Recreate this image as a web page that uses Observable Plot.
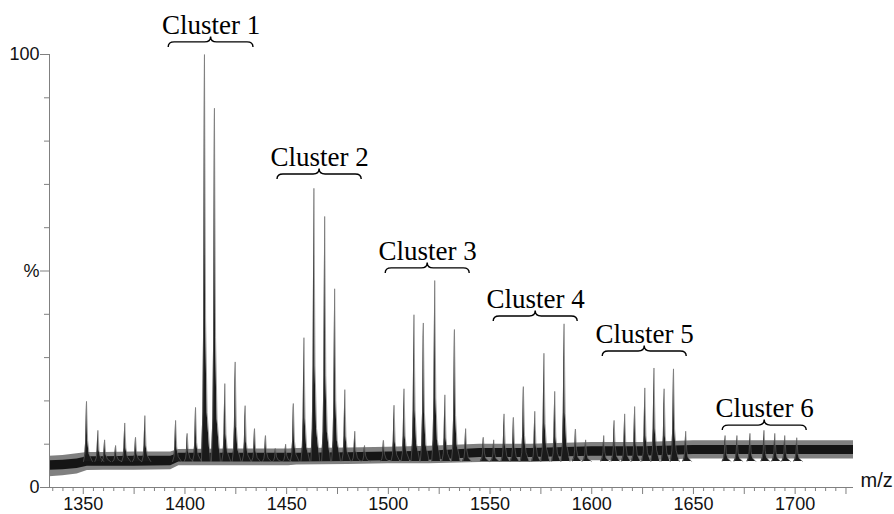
<!DOCTYPE html>
<html><head><meta charset="utf-8">
<script src="https://cdn.jsdelivr.net/npm/d3@7"></script>
<script src="https://cdn.jsdelivr.net/npm/@observablehq/plot@0.6"></script>
<style>html,body{margin:0;padding:0;background:#fff;} #chart svg{display:block;}</style>
</head><body><div id="chart"></div>
<script>
// ---- data ----
const xDomain = [1333.4, 1728.7];
const xLabelTicks = [1350, 1400, 1450, 1500, 1550, 1600, 1650, 1700];
const xMidTicks = [1375, 1425, 1475, 1525, 1575, 1625, 1675, 1725];
const yLabelTicks = [0, 50, 100];
const yLabelText = ["0", "%", "100"];
const yMinorTicks = [10, 20, 30, 40, 60, 70, 80, 90];

const peakMz = [1351.6, 1357.2, 1360.5, 1365.9, 1370.4, 1375.7, 1380.3,
  1395.4, 1401.1, 1405.2, 1409.6, 1414.5, 1419.6, 1424.7, 1429.6, 1434.2, 1439.6, 1444.5, 1449.5,
  1453.3, 1458.5, 1463.4, 1468.7, 1473.6, 1478.6, 1483.5, 1488.3,
  1497.6, 1502.8, 1507.7, 1512.6, 1517.2, 1522.8, 1527.8, 1532.5, 1538.0,
  1546.7, 1551.8, 1556.9, 1561.5, 1566.4, 1572.0, 1576.5, 1581.8, 1586.4, 1592.0, 1597.0,
  1605.9, 1611.0, 1616.2, 1621.1, 1626.1, 1630.6, 1635.6, 1640.2, 1646.2,
  1665.6, 1671.4, 1677.8, 1684.7, 1690.0, 1694.9, 1700.8];
const peakHeight = [19.9, 13.2, 11.0, 9.7, 14.9, 11.6, 16.6,
  15.5, 12.5, 18.5, 100, 87.6, 24, 29, 18.9, 13.6, 12, 9, 10,
  19.4, 34.6, 69.1, 62.6, 45.9, 22.6, 13, 9.7,
  10.9, 19, 22.8, 39.9, 38, 47.8, 21.4, 36.5, 13.6,
  11.6, 11, 17, 16.2, 23.3, 17.6, 31, 22.2, 37.8, 13.5, 11,
  12, 15.5, 17, 18.7, 23, 27.6, 22.8, 27.4, 13,
  12, 12, 12.5, 13.2, 12.5, 12, 11.5];
const peakFoot = 6;

const bandMz        = [1333.4, 1340, 1347, 1352, 1360, 1375, 1393, 1397, 1420, 1451, 1455, 1480, 1500, 1520, 1545, 1570, 1600, 1625, 1650, 1670, 1700, 1728.7];
const bandOuterLow  = [2.5, 2.7, 3.1, 3.9, 4.0, 4.0, 4.1, 5.0, 5.0, 5.0, 5.2, 5.3, 5.5, 5.5, 5.8, 5.8, 6.2, 6.2, 6.6, 6.6, 6.6, 6.6];
const bandOuterHigh = [7.2, 7.4, 7.8, 8.1, 8.1, 8.2, 8.2, 8.8, 8.9, 8.9, 9.0, 9.1, 9.3, 9.5, 10.0, 10.0, 10.4, 10.4, 10.8, 10.8, 10.8, 10.8];
const bandCoreLow   = [4.0, 4.1, 4.4, 4.9, 4.9, 4.9, 5.0, 5.9, 5.9, 5.9, 5.9, 6.0, 6.2, 6.3, 6.9, 6.9, 7.2, 7.2, 7.6, 7.6, 7.6, 7.6];
const bandCoreHigh  = [6.2, 6.3, 6.6, 7.1, 7.1, 7.2, 7.2, 7.9, 7.9, 7.9, 7.9, 8.0, 8.2, 8.4, 9.0, 9.0, 9.4, 9.4, 9.7, 9.7, 9.7, 9.7];

const clusterNames = ["Cluster 1", "Cluster 2", "Cluster 3", "Cluster 4", "Cluster 5", "Cluster 6"];
const clusterStart = [1392.0, 1445.5, 1498.7, 1551.8, 1605.4, 1664.4];
const clusterEnd   = [1433.7, 1486.9, 1540.0, 1593.1, 1646.7, 1705.7];
const clusterLevel = [102.8, 72.3, 50.6, 39.5, 31.4, 14.3];

// ---- tables built from the arrays ----
const bandRows = bandMz.map((x, i) => ({x, lo: bandOuterLow[i], hi: bandOuterHigh[i], clo: bandCoreLow[i], chi: bandCoreHigh[i]}));
const peakRows = [];
peakMz.forEach((m, i) => {
  const h = peakHeight[i];
  const low = peakFoot + 0.12 * (h - peakFoot);
  const mid = peakFoot + 0.35 * (h - peakFoot);
  peakRows.push({id: i, x: m - 1.5, y: peakFoot});
  peakRows.push({id: i, x: m - 0.8, y: low});
  peakRows.push({id: i, x: m - 0.4, y: mid});
  peakRows.push({id: i, x: m, y: h});
  peakRows.push({id: i, x: m + 0.55, y: mid});
  peakRows.push({id: i, x: m + 1.3, y: low});
  peakRows.push({id: i, x: m + 2.9, y: peakFoot});
});
const clusters = clusterNames.map((name, i) => ({name, start: clusterStart[i], end: clusterEnd[i], level: clusterLevel[i]}));
const xMinorTicks = d3.range(1335, 1730, 5).filter(v => v % 25 !== 0);

const axisGray = "#808080";
const textColor = "#111";
const sans = "Liberation Sans, Arial, sans-serif";

function braces(index, scales) {
  const g = d3.create("svg:g").attr("fill", "none").attr("stroke", "#000").attr("stroke-width", 1.4);
  clusters.forEach(c => {
    const x1 = scales.x(c.start), x2 = scales.x(c.end), y = scales.y(c.level);
    const xm = (x1 + x2) / 2, r = 6, dn = 5, up = 5.5;
    g.append("path").attr("d",
      `M${x1},${y + dn} Q${x1},${y} ${x1 + r},${y} L${xm - r},${y} Q${xm},${y} ${xm},${y - up} Q${xm},${y} ${xm + r},${y} L${x2 - r},${y} Q${x2},${y} ${x2},${y + dn}`);
  });
  return g.node();
}

const chart = Plot.plot({
  width: 894,
  height: 514,
  marginLeft: 49,
  marginRight: 41,
  marginTop: 54,
  marginBottom: 27,
  style: {background: "#fff", color: textColor},
  x: {domain: xDomain, label: null},
  y: {domain: [0, 100], label: null},
  marks: [
    Plot.areaY(bandRows, {x: "x", y1: "lo", y2: "hi", fill: "#808080"}),
    Plot.areaY(bandRows, {x: "x", y1: "clo", y2: "chi", fill: "#151515"}),
    Plot.areaY(peakRows, {x: "x", y1: peakFoot, y2: "y", z: "id", fill: "#1a1a1a"}),
    Plot.line(peakRows, {x: "x", y: "y", z: "id", stroke: "#666", strokeWidth: 0.6}),
    Plot.ruleY([0], {stroke: axisGray}),
    Plot.ruleX([xDomain[0]], {y1: 0, y2: 100, stroke: axisGray}),
    Plot.axisX(xMinorTicks, {tickSize: 4, tickFormat: () => "", stroke: axisGray, label: null}),
    Plot.axisX(xMidTicks, {tickSize: 7, tickFormat: () => "", stroke: axisGray, label: null}),
    Plot.axisX(xLabelTicks, {tickSize: 7, tickPadding: 3, stroke: axisGray, fill: textColor, fontSize: 18, fontFamily: sans, tickFormat: d => String(d), label: null}),
    Plot.axisY(yMinorTicks, {tickSize: 5, tickFormat: () => "", stroke: axisGray, label: null}),
    Plot.axisY(yLabelTicks, {tickSize: 9, tickPadding: 1, stroke: axisGray, fill: textColor, fontSize: 18, fontFamily: sans, tickFormat: d => yLabelText[yLabelTicks.indexOf(d)], label: null}),
    Plot.text(["m/z"], {x: xDomain[1], y: 0, text: d => d, dx: 7, dy: -7, textAnchor: "start", fontSize: 20, fontFamily: sans, fill: textColor}),
    Plot.text(clusters, {x: d => (d.start + d.end) / 2, y: "level", text: "name", dy: -8.5, lineAnchor: "bottom", fontSize: 27, fontFamily: "Liberation Serif, Times New Roman, serif", fill: "#000"}),
    braces
  ]
});
document.getElementById("chart").appendChild(chart);
</script>
</body></html>
